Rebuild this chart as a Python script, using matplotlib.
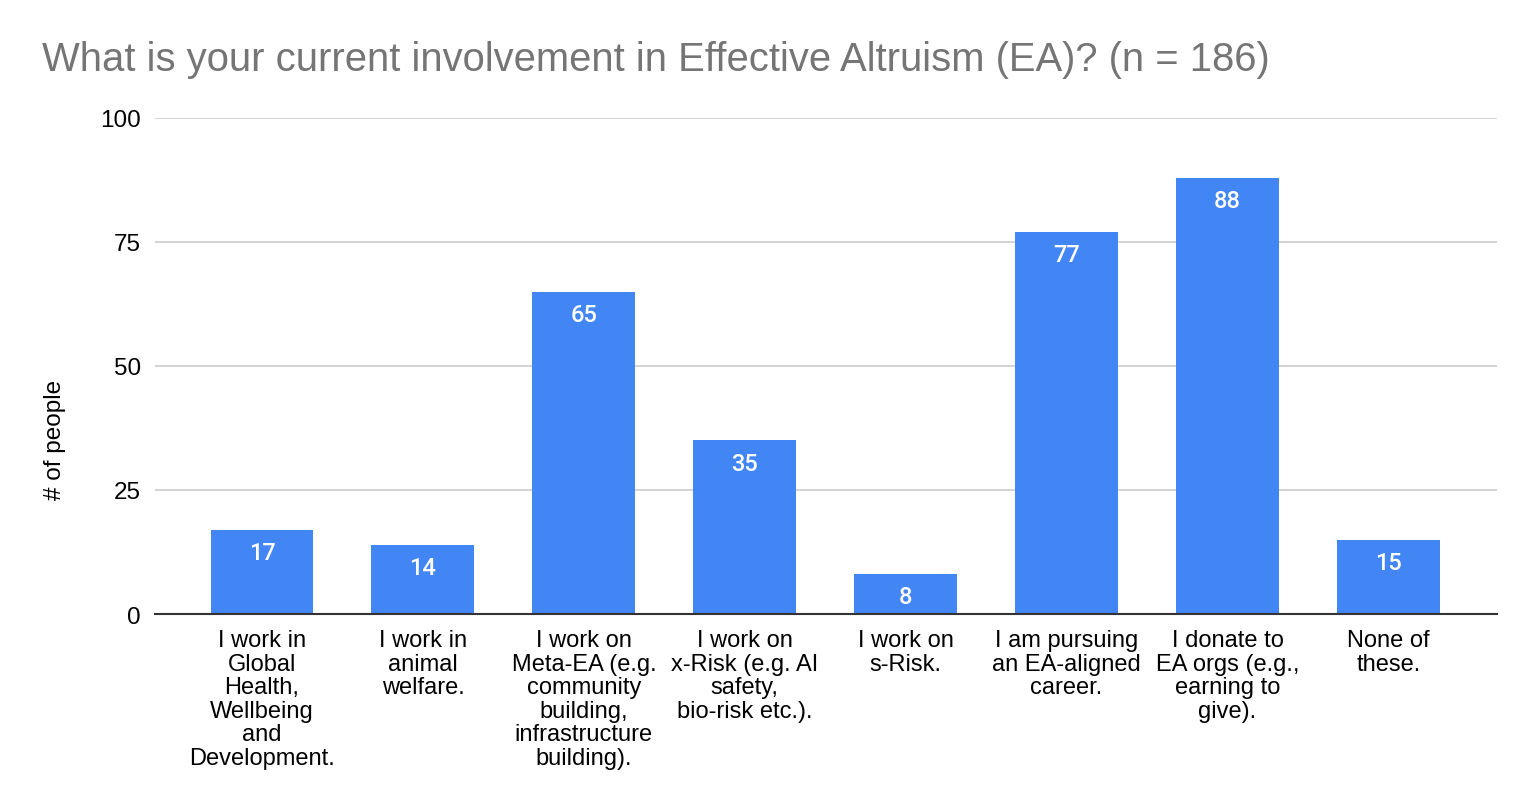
import matplotlib
matplotlib.use("Agg")
import matplotlib.pyplot as plt

categories = [
    "I work in\nGlobal\nHealth,\nWellbeing\nand\nDevelopment.",
    "I work in\nanimal\nwelfare.",
    "I work on\nMeta-EA (e.g.\ncommunity\nbuilding,\ninfrastructure\nbuilding).",
    "I work on\nx-Risk (e.g. AI\nsafety,\nbio-risk etc.).",
    "I work on\ns-Risk.",
    "I am pursuing\nan EA-aligned\ncareer.",
    "I donate to\nEA orgs (e.g.,\nearning to\ngive).",
    "None of\nthese.",
]
values = [17, 14, 65, 35, 8, 77, 88, 15]
yticks = [0, 25, 50, 75, 100]
title = "What is your current involvement in Effective Altruism (EA)? (n = 186)"
ylabel = "# of people"

plt.rcParams['font.family'] = ['Liberation Sans', 'DejaVu Sans']

fig = plt.figure(figsize=(15.38, 8.12), dpi=100)
ax = fig.add_axes([155/1538, 1-615/812, (1497-155)/1538, (615-119)/812])

x = list(range(len(values)))
bars = ax.bar(x, values, width=0.64, color="#4285F4", zorder=3)
for xi, v in zip(x, values):
    ax.annotate(str(v), (xi, v), xytext=(0, -8), textcoords="offset points",
                ha="center", va="top", color="white", fontsize=17,
                family=["Roboto", "DejaVu Sans"], fontweight="medium", zorder=4)

ax.set_xlim(-0.665, len(values) - 1 + 0.675)
ax.set_ylim(0, 100)
ax.set_yticks(yticks)
ax.set_yticklabels([str(t) for t in yticks], fontsize=17.5)
ax.set_xticks(x)
ax.set_xticklabels(categories, fontsize=17, linespacing=1.09, va="top")
ax.tick_params(axis="x", length=0, pad=11)
ax.tick_params(axis="y", length=0, pad=10)
ax.grid(axis="y", color="#cccccc", linewidth=1.2, zorder=0)
for s in ["top", "right", "left"]:
    ax.spines[s].set_visible(False)
ax.spines["bottom"].set_color("#333333")
ax.spines["bottom"].set_linewidth(1.5)
ax.spines["bottom"].set_zorder(5)

fig.text(42/1538, 1-60/812, title, fontsize=28.8, color="#757575", ha="left", va="center")
fig.text(55/1538, 1-440/812, ylabel, fontsize=17.5, rotation=90, ha="center", va="center")

fig.savefig("out.png", dpi=100)
